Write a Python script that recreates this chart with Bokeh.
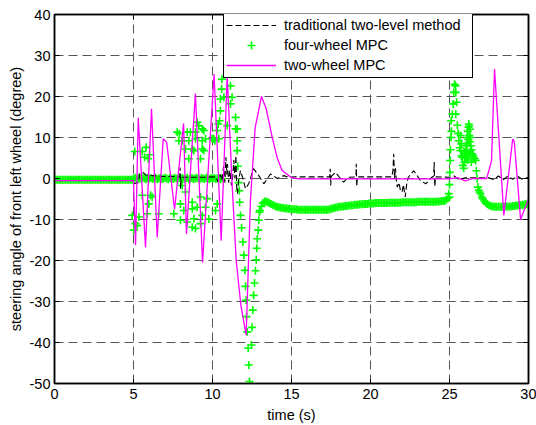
import numpy as np
from bokeh.plotting import figure
from bokeh.models import Range1d, LinearAxis, FixedTicker, Legend, LegendItem, ColumnDataSource
from bokeh.embed import file_html
from bokeh.resources import INLINE

# ---------------- data ----------------
x_ticks = [0, 5, 10, 15, 20, 25, 30]
y_ticks = [-50, -40, -30, -20, -10, 0, 10, 20, 30, 40]
y_tick_labels = ["-50", "-40", "-30", "-20", "-10", "0", "10", "20", "30", "40"]

# traditional two-level method (black dashed)
trad_t = [0.0, 5.0, 5.03, 5.3, 5.4, 5.6, 5.8, 6.2, 6.8, 7.5, 7.93, 7.95, 7.98, 8.02, 9.5,
          10.2, 10.35, 10.5, 10.6, 10.7, 10.78, 10.85, 10.9, 10.95, 11.02, 11.1, 11.2, 11.28,
          11.35, 11.42, 11.48, 11.53, 11.58, 11.65, 11.77, 11.9, 12.09, 12.3, 12.6, 12.93,
          13.25, 13.67, 14.1, 14.5, 14.83, 15.3, 17.42, 17.45, 17.48, 17.52, 17.78, 18.1, 18.3,
          18.6, 19.08, 19.1, 19.13, 19.17, 21.35, 21.42, 21.47, 21.52, 21.58, 21.65, 21.7,
          21.8, 21.9, 22.0, 22.08, 22.2, 22.3, 22.4, 22.74, 23.16, 23.5, 23.8, 24.0, 24.03,
          24.07, 24.12, 25.0, 25.3, 25.6, 26.0, 27.5, 27.8, 28.1, 28.4, 28.7, 29.0, 29.3,
          29.6, 30.0]
trad_v = [-0.5, -0.5, -1.3, -1.0, 1.2, 1.5, 0.8, 0.7, 0.5, 0.5, 0.4, 2.7, -2.5, 0.3, 0.3,
          0.4, -0.8, 1.0, -0.5, 3.0, -1.0, 5.2, 1.0, 3.5, -1.0, 2.0, -1.7, 0.5,
          4.5, 0.0, 5.6, -2.0, -3.7, -0.5, 1.9, 0.3, -2.5, -1.2, 2.4, 0.7,
          -1.3, 1.1, 0.0, 0.7, 0.3, 0.4, 0.4, 2.4, -1.7, 0.5, 1.5, 0.0, -0.9,
          0.3, 0.4, 3.6, -2.0, 0.4, 0.4, 2.0, 6.0, 0.0, 2.5, -1.0, -2.1,
          -1.0, -3.0, -3.3, -1.5, -4.5, -1.0, 0.3, 1.9, -0.5, -1.3, 0.0, 0.6, 4.0,
          -2.0, 0.4, 0.3, 0.6, -0.3, 0.2, 0.2, -0.3, 0.6, -0.3, 0.6, -0.2, 0.6,
          -0.2, 0.3]

# two-wheel MPC (magenta)
two_t = [0.0, 5.0, 5.13, 5.3, 5.76, 6.14, 6.5, 6.88, 7.1, 7.6, 8.17, 8.35, 8.92, 9.37,
         10.1, 10.55, 10.93, 11.25, 11.5, 11.8, 12.13, 12.4, 12.7, 13.1, 13.4, 13.78, 14.1,
         14.4, 15.0, 15.5, 20.0, 25.0, 25.5, 26.0, 26.5, 27.35, 27.5, 27.66, 27.85, 28.44,
         29.0, 29.1, 29.5, 30.0]
two_v = [-0.5, -0.5, -16.3, 14.8, -16.8, 17.0, -14.4, 9.7, 8.8, -7.5, 13.4, -13.5, 20.7, -20.5,
         25.5, -15.2, 25.0, -2.0, -20.0, -31.0, -38.2, -5.4, 12.4, 20.0, 17.0, 10.0, 5.0,
         2.0, 0.2, -0.1, -0.1, -0.1, 0.2, -0.6, 0.0, 0.0, 2.0, 4.4, 26.7, -9.0,
         9.6, 9.0, -10.0, -5.0]

# four-wheel MPC (green +) : densely sampled stretches, 0.1 s apart
four_a_t0, four_a_t1 = 0.0, 5.0
four_a_v = [-0.3, -0.3, -0.3, -0.3, -0.3, -0.3, -0.3, -0.3, -0.3, -0.3,
            -0.3, -0.3, -0.3, -0.3, -0.3, -0.3, -0.3, -0.3, -0.3, -0.3,
            -0.3, -0.3, -0.3, -0.3, -0.3, -0.3, -0.3, -0.3, -0.3, -0.3,
            -0.3, -0.3, -0.3, -0.3, -0.3, -0.3, -0.3, -0.3, -0.3, -0.3,
            -0.3, -0.3, -0.3, -0.3, -0.3, -0.3, -0.3, -0.3, -0.3, -0.3, -0.3]
four_b_t0, four_b_t1 = 5.0, 10.6
four_b_v = [0.0, 0.2, -0.2, 0.1, 0.0, -0.1, 0.2, 0.0, -0.2, 0.1,
            0.0, 0.1, -0.1, 0.0, 0.2, -0.2, 0.0, 0.1, -0.1, 0.0,
            0.2, 0.0, -0.2, 0.1, 0.0, -0.1, 0.2, 0.0, -0.2, 0.1,
            0.0, 0.1, -0.1, 0.0, 0.2, -0.2, 0.0, 0.1, -0.1, 0.0,
            0.2, 0.0, -0.2, 0.1, 0.0, -0.1, 0.2, 0.0, -0.2, 0.1,
            0.0, 0.1, -0.1, 0.0, 0.2, -0.2, 0.0]
four_c_t0, four_c_t1 = 13.0, 25.0
four_c_v = [-7.8, -6.8, -6.0, -5.6, -5.6, -5.8, -6.0, -6.2, -6.4, -6.6,
            -6.8, -6.9, -7.0, -7.1, -7.2, -7.2, -7.3, -7.3, -7.4, -7.4,
            -7.5, -7.5, -7.5, -7.5, -7.6, -7.6, -7.6, -7.6, -7.6, -7.6,
            -7.6, -7.6, -7.6, -7.6, -7.6, -7.6, -7.6, -7.6, -7.6, -7.6,
            -7.6, -7.6, -7.6, -7.6, -7.5, -7.4, -7.3, -7.2, -7.1, -7.0,
            -6.9, -6.9, -6.8, -6.8, -6.7, -6.7, -6.6, -6.6, -6.5, -6.5,
            -6.4, -6.4, -6.4, -6.3, -6.3, -6.3, -6.2, -6.2, -6.2, -6.1,
            -6.1, -6.1, -6.1, -6.0, -6.0, -6.0, -6.0, -6.0, -6.0, -6.0,
            -6.0, -5.9, -5.9, -5.9, -5.9, -5.9, -5.9, -5.9, -5.9, -5.9,
            -5.8, -5.8, -5.8, -5.8, -5.8, -5.8, -5.8, -5.8, -5.8, -5.8,
            -5.7, -5.7, -5.7, -5.7, -5.7, -5.7, -5.7, -5.7, -5.7, -5.7,
            -5.7, -5.7, -5.6, -5.6, -5.6, -5.5, -5.5, -5.4, -5.2, -4.8, -4.5]
four_d_t0, four_d_t1 = 27.2, 30.0
four_d_v = [-5.5, -6.0, -6.3, -6.5, -6.7, -6.8, -6.8, -6.9, -6.9, -6.9,
            -6.9, -6.9, -6.9, -6.9, -6.8, -6.8, -6.8, -6.8, -6.7, -6.7,
            -6.6, -6.6, -6.5, -6.5, -6.4, -6.4, -6.3, -6.3, -6.2]

# four-wheel MPC: individually read markers
four_s_t = [5.08, 5.55, 5.8, 5.7, 5.93, 6.01, 7.76, 7.87, 7.9, 8.08, 8.29, 8.4, 8.5, 8.5, 8.6,
            8.72, 8.82, 8.92, 8.92, 9.03, 9.13, 9.24, 9.35, 9.35, 9.35, 9.45, 9.56, 9.45, 9.98,
            10.08, 10.15, 10.3, 10.36,
            4.92, 5.02, 5.13, 5.23, 5.34, 5.55, 5.87, 5.97, 6.08, 6.18, 6.6, 7.55, 7.97, 7.97,
            8.08, 8.18, 8.29, 8.4, 8.72, 8.72, 8.72, 8.82, 8.92, 9.03, 9.24, 9.24, 9.35, 9.56,
            9.66, 9.77, 10.19, 10.3,
            10.4, 10.45, 10.5, 10.5, 10.58, 10.6, 10.72, 10.93, 11.14, 11.14, 11.24, 11.46,
            11.46, 11.56, 11.56, 11.56, 11.6, 11.65, 11.7, 11.72, 11.77, 11.84, 11.92, 11.98,
            12.05, 12.09, 12.13, 12.15, 12.2, 12.26, 12.3, 12.34, 12.47, 12.51, 12.55, 12.6,
            12.66, 12.72, 12.77, 12.8, 12.83, 12.89, 12.93, 12.97,
            24.95, 25.0, 25.02, 25.04, 25.06, 25.1, 25.12, 25.1, 25.18, 25.23, 25.27, 25.32,
            25.38, 25.4, 25.45, 25.4, 25.5, 25.55, 25.59, 25.65, 25.7, 25.75, 25.8, 25.85,
            25.9, 25.95, 26.0, 26.05, 26.1, 26.15, 26.2, 26.22, 26.25, 26.3, 26.33, 26.35,
            26.4, 26.45, 26.5, 26.55, 26.6, 26.65, 26.7, 26.75, 26.8, 26.85, 26.9, 26.96,
            27.05, 27.12, 26.12, 26.18, 26.28, 26.1, 26.2, 26.3, 26.05, 26.15, 25.95, 25.7,
            25.75, 26.25, 26.38]
four_s_v = [6.6, 6.6, 7.6, 5.2, 4.8, 5.8, 11.3, 9.2, 10.9, 9.2, 7.2, 11.3, 9.2, 4.8, 11.3,
            7.2, 6.8, 11.3, 9.7, 13.7, 12.9, 4.8, 12.1, 9.2, 7.2, 11.7, 9.7, 6.8, 9.7,
            9.7, 9.2, 11.7, 13.3,
            -9.0, -12.6, -11.0, -11.5, -9.4, -4.1, -8.6, -6.2, -4.1, -4.5, -8.6, -8.6, -6.2, -10.2,
            -1.7, -7.8, -3.3, -10.6, -5.8, -7.4, -11.9, -9.8, -12.2, -7.0, -4.5, -11.0, -9.0, -7.0,
            -4.9, -9.9, -7.8, -6.2,
            9.7, 14.1, 16.5, 19.4, 21.8, 24.2, 19.8, 12.9, 22.6, 18.2, 19.8, 14.9,
            12.1, 12.1, 9.2, 6.8, 3.0, -1.0, -3.0, -5.8, -9.0, -12.0, -15.5, -18.7,
            -22.4, -26.3, -29.7, -33.7, -37.4, -41.4, -45.5, -49.5, -40.6, -36.3, -32.1, -28.5,
            -25.5, -22.5, -19.8, -17.0, -14.7, -12.6, -10.2, -8.2,
            -3.7, -1.5, 1.5, 4.4, 7.0, 10.0, 11.5, 14.1, 15.7, 18.2, 21.0, 23.0,
            22.6, 21.0, 18.6, 15.7, 13.0, 11.0, 9.2, 7.5, 6.8, 5.5, 5.2, 3.2,
            2.5, 4.0, 6.0, 8.0, 10.0, 11.5, 12.5, 13.3, 12.8, 12.0, 10.0, 8.0,
            7.0, 6.0, 5.5, 5.0, 4.8, 4.4, 1.9, 0.0, -2.1, -2.8, -3.3, -3.7,
            -4.6, -5.0, 8.5, 9.5, 9.0, 7.0, 5.5, 6.5, 5.0, 4.5, 6.5, 10.5,
            8.5, 10.5, 4.0]

labels = ["traditional two-level method", "four-wheel MPC", "two-wheel MPC"]

# ---------------- assemble ----------------
def grid(t0, t1, n):
    return list(np.linspace(t0, t1, n))

four_t = (grid(four_a_t0, four_a_t1, len(four_a_v)) + grid(four_b_t0, four_b_t1, len(four_b_v))
          + grid(four_c_t0, four_c_t1, len(four_c_v)) + grid(four_d_t0, four_d_t1, len(four_d_v))
          + four_s_t)
four_v = four_a_v + four_b_v + four_c_v + four_d_v + four_s_v

FONT = "Liberation Sans"

p = figure(width=536, height=425, output_backend="svg", toolbar_location=None,
           x_range=Range1d(0, 30), y_range=Range1d(-50, 40),
           min_border_left=54, min_border_right=8, min_border_top=14, min_border_bottom=41)
p.background_fill_color = "white"
p.border_fill_color = "white"
p.outline_line_color = "black"
p.outline_line_width = 1.5
p.outline_line_alpha = 1.0

src_four = ColumnDataSource(dict(t=four_t, v=four_v))
r_four = p.scatter("t", "v", source=src_four, marker="cross", size=8,
                   line_color="#00ff00", line_width=1.6)
r_trad = p.line(trad_t, trad_v, line_color="black", line_dash="6 3", line_width=1.1)
r_two = p.line(two_t, two_v, line_color="#ff00ff", line_width=1.3)

# axes
for ax in (p.xaxis[0], p.yaxis[0]):
    ax.major_tick_in = 5
    ax.major_tick_out = 0
    ax.minor_tick_line_color = None
    ax.axis_line_width = 1.5
    ax.major_tick_line_width = 1
    ax.major_label_text_font = FONT
    ax.major_label_text_font_size = "14.5px"
    ax.major_label_text_color = "black"
    ax.axis_label_text_font = FONT
    ax.axis_label_text_font_size = "14.5px"
    ax.axis_label_text_font_style = "normal"
    ax.axis_label_text_color = "black"
p.xaxis[0].ticker = FixedTicker(ticks=x_ticks)
p.yaxis[0].ticker = FixedTicker(ticks=y_ticks)
p.yaxis[0].major_label_overrides = {t: s for t, s in zip(y_ticks, y_tick_labels)}
p.xaxis[0].axis_label = "time (s)"
p.yaxis[0].axis_label = "steering angle of front left wheel (degree)"
p.xaxis[0].major_label_standoff = 5
p.yaxis[0].major_label_standoff = 4
p.xaxis[0].axis_label_standoff = 5
p.yaxis[0].axis_label_standoff = 3

top = LinearAxis(ticker=FixedTicker(ticks=x_ticks),
                 major_label_overrides={t: "" for t in x_ticks})
right = LinearAxis(ticker=FixedTicker(ticks=y_ticks),
                   major_label_overrides={t: "" for t in y_ticks})
for ax in (top, right):
    ax.major_tick_in = 5
    ax.major_tick_out = 0
    ax.minor_tick_line_color = None
    ax.axis_line_width = 1.5
    ax.major_label_text_color = None
    ax.major_label_standoff = 0
p.add_layout(top, "above")
p.add_layout(right, "right")

for g in (p.xgrid[0], p.ygrid[0]):
    g.grid_line_color = "#555555"
    g.grid_line_dash = "9 5"
    g.grid_line_width = 1
    g.grid_line_alpha = 1.0

legend = Legend(items=[LegendItem(label=labels[0], renderers=[r_trad]),
                       LegendItem(label=labels[1], renderers=[r_four]),
                       LegendItem(label=labels[2], renderers=[r_two])],
                location=(169, 305))
legend.margin = 0
legend.padding = 2
legend.spacing = 0
legend.label_height = 20
legend.glyph_height = 20
legend.glyph_width = 50
legend.label_standoff = 8
legend.label_width = 186
legend.label_text_font = FONT
legend.label_text_font_size = "14.5px"
legend.label_text_color = "black"
legend.border_line_color = "#000000"
legend.border_line_width = 1.3
legend.border_line_alpha = 1.0
legend.background_fill_color = "white"
legend.background_fill_alpha = 1.0
p.add_layout(legend)

open("out.html", "w").write(file_html(p, INLINE))
